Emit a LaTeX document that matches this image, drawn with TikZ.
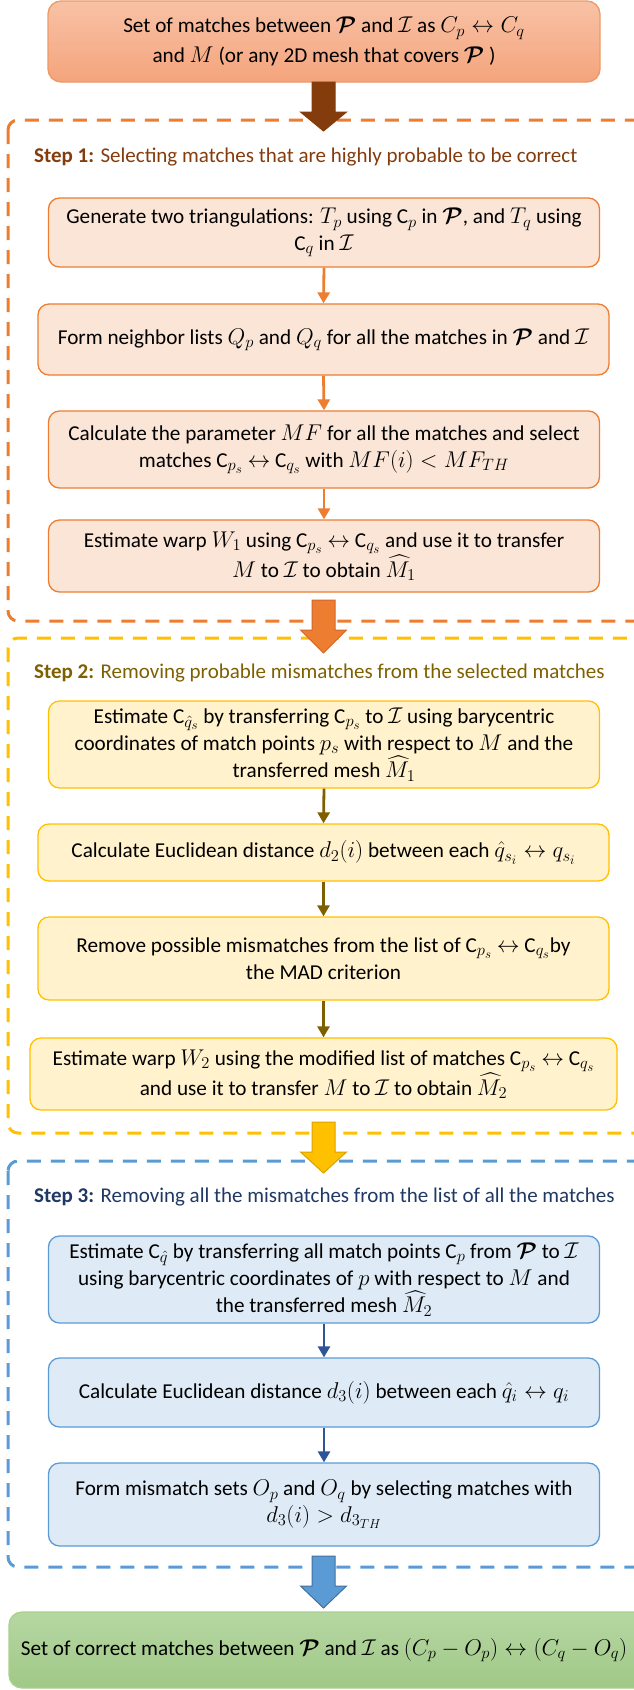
\documentclass[tikz,border=0pt]{standalone}
\usepackage{fix-cm}
\usepackage{amsmath}
\usepackage{fontspec}
\setmainfont{Carlito}
\usetikzlibrary{arrows.meta}
\DeclareMathSizes{21.2}{22.8}{16.5}{13}
\DeclareMathSizes{21}{22.6}{16.3}{13}
\definecolor{topA}{HTML}{F8C2A6}
\definecolor{topB}{HTML}{F4A47C}
\definecolor{topD}{HTML}{EE9A66}
\definecolor{brownC}{HTML}{843C0C}
\definecolor{orangeC}{HTML}{ED7D31}
\definecolor{orangeF}{HTML}{FBE5D6}
\definecolor{orangeD}{HTML}{D0692A}
\definecolor{yellowC}{HTML}{FFC000}
\definecolor{yellowF}{HTML}{FFF2CC}
\definecolor{yellowD}{HTML}{D9A300}
\definecolor{goldC}{HTML}{7F6000}
\definecolor{blueC}{HTML}{5B9BD5}
\definecolor{blueF}{HTML}{DEEBF7}
\definecolor{blueA}{HTML}{2F5597}
\definecolor{blueD}{HTML}{41719C}
\definecolor{navyC}{HTML}{203864}
\definecolor{greenA}{HTML}{B6D7A3}
\definecolor{greenB}{HTML}{A0C886}
\definecolor{greenD}{HTML}{A9D18E}
\newcommand\cP{\boldsymbol{\mathcal{P}}}
\newcommand\cI{\mathcal{I}}
\newcommand\blockarr[6]{%
  \filldraw[fill=#5,draw=#6,line width=1pt]
    (#1-11.5,#2) -- (#1+11.5,#2) -- (#1+11.5,#3) -- (#1+23,#3) -- (#1,#4)
    -- (#1-23,#3) -- (#1-11.5,#3) -- cycle;}
\tikzset{
  txt/.style={font=\fontsize{21.2}{26.5}\selectfont, align=center, inner sep=0pt},
  bx/.style={txt, rounded corners=11pt, line width=1.3pt},
  s1/.style={bx, draw=orangeC, fill=orangeF},
  s2/.style={bx, draw=yellowC, fill=yellowF},
  s3/.style={bx, draw=blueC, fill=blueF},
  dframe/.style={rounded corners=10pt, line width=3pt, dash pattern=on 14pt off 10pt},
  steplbl/.style={font=\fontsize{21}{24}\selectfont, anchor=west, inner sep=0pt},
  sarr/.style={line width=2.8pt, -{Triangle[width=12pt,length=11pt]}},
}
\begin{document}
\begin{tikzpicture}[x=1pt,y=-1pt]
% frames
\draw[dframe, draw=orangeC] (8,120) rectangle (650,621);
\draw[dframe, draw=yellowC] (8,638) rectangle (650,1133);
\draw[dframe, draw=blueC] (8,1161) rectangle (650,1567);
% top box
\node[bx, draw=topD, top color=topA, bottom color=topB, rounded corners=13pt,
  font=\fontsize{21.2}{30}\selectfont,
  minimum width=552pt, minimum height=81pt] (top) at (324,41.5)
  {Set of matches between $\cP$ and $\cI$ as $C_p \leftrightarrow C_q$\\
   and $M$ (or any 2D mesh that covers $\cP$ )};
% step labels
\node[steplbl, text=brownC] (l1) at (34,157) {\textbf{Step 1:} Selecting matches that are highly probable to be correct};
\node[steplbl, text=goldC] (l2) at (34,673) {\textbf{Step 2:} Removing probable mismatches from the selected matches};
\node[steplbl, text=navyC] (l3) at (34,1197) {\textbf{Step 3:} Removing all the mismatches from the list of all the matches};
% step 1
\node[s1, minimum width=551pt, minimum height=69pt] (gen) at (324,232.5)
  {Generate two triangulations: $T_p$ using C$_p$ in $\cP$, and $T_q$ using\\ C$_q$ in $\cI$};
\node[s1, minimum width=571pt, minimum height=71pt] (nbr) at (323.5,339.5)
  {Form neighbor lists $Q_p$ and $Q_q$ for all the matches in $\cP$ and $\cI$};
\node[s1, minimum width=551pt, minimum height=77pt] (mf) at (324,449.5)
  {Calculate the parameter $MF$ for all the matches and select\\
   matches C$_{p_s}$ $\leftrightarrow$ C$_{q_s}$ with $MF(i) < MF_{TH}$};
\node[s1, minimum width=551pt, minimum height=72pt] (w1) at (324,556)
  {Estimate warp $W_1$ using C$_{p_s}$ $\leftrightarrow$ C$_{q_s}$ and use it to transfer\\
   $M$ to $\cI$ to obtain $\widehat{M}_1$};
% step 2
\node[s2, minimum width=551pt, minimum height=87pt] (bq) at (324,744.5)
  {Estimate C$_{\hat{q}_s}$ by transferring C$_{p_s}$ to $\cI$ using barycentric\\
   coordinates of match points $p_s$ with respect to $M$ and the\\
   transferred mesh $\widehat{M}_1$};
\node[s2, minimum width=571pt, minimum height=57pt] (d2) at (323.5,852.5)
  {Calculate Euclidean distance $d_2(i)$ between each $\hat{q}_{s_i} \leftrightarrow q_{s_i}$};
\node[s2, minimum width=571pt, minimum height=83pt] (mad) at (323.5,958.5)
  {Remove possible mismatches from the list of C$_{p_s}$ $\leftrightarrow$ C$_{q_s}$by\\
   the MAD criterion};
\node[s2, minimum width=587pt, minimum height=72pt] (w2) at (323.5,1074)
  {Estimate warp $W_2$ using the modified list of matches C$_{p_s}$ $\leftrightarrow$ C$_{q_s}$\\
   and use it to transfer $M$ to $\cI$ to obtain $\widehat{M}_2$};
% step 3
\node[s3, minimum width=551pt, minimum height=87pt] (bq3) at (324,1279.5)
  {Estimate C$_{\hat{q}}$ by transferring all match points C$_p$ from $\cP$ to $\cI$\\
   using barycentric coordinates of $p$ with respect to $M$ and\\
   the transferred mesh $\widehat{M}_2$};
\node[s3, minimum width=551pt, minimum height=69pt] (d3) at (324,1392.5)
  {Calculate Euclidean distance $d_3(i)$ between each $\hat{q}_i \leftrightarrow q_i$};
\node[s3, minimum width=551pt, minimum height=83pt] (om) at (324,1504.5)
  {Form mismatch sets $O_p$ and $O_q$ by selecting matches with\\
   $d_3(i) > d_{3_{TH}}$};
% result
\node[bx, draw=greenD, top color=greenA, bottom color=greenB, rounded corners=13pt,
  minimum width=650pt, minimum height=76pt] (res) at (334,1650)
  {\hspace*{-20pt}Set of correct matches between $\cP$ and $\cI$ as $(C_p - O_p) \leftrightarrow (C_q - O_q)$};
% small arrows
\draw[sarr, orangeC] (gen.south) -- (nbr.north);
\draw[sarr, orangeC] (nbr.south) -- (mf.north);
\draw[sarr, orangeC] (mf.south) -- (w1.north);
\draw[sarr, goldC] (bq.south) -- (d2.north);
\draw[sarr, goldC] (d2.south) -- (mad.north);
\draw[sarr, goldC] (mad.south) -- (w2.north);
\draw[sarr, blueA] (bq3.south) -- (d3.north);
\draw[sarr, blueA] (d3.south) -- (om.north);
% block arrows
\blockarr{323.5}{82}{112}{131}{brownC}{brownC}
\blockarr{323.5}{600}{630}{653}{orangeC}{orangeD}
\blockarr{323.5}{1122}{1152}{1173}{yellowC}{yellowD}
\blockarr{323.5}{1556}{1586}{1608}{blueC}{blueD}
\pgfresetboundingbox
\path[use as bounding box] (0,0) rectangle (634,1690);
\end{tikzpicture}
\end{document}
